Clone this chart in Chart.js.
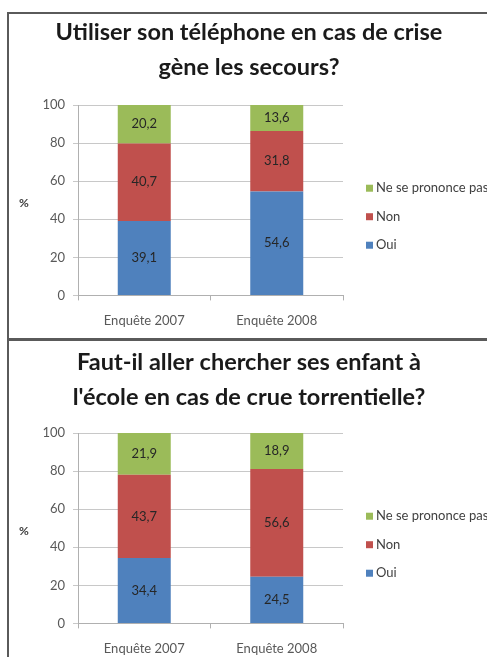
<!DOCTYPE html>
<html>
<head>
<meta charset="utf-8">
<script src="https://cdn.jsdelivr.net/npm/chart.js@4.4.0/dist/chart.umd.min.js"></script>
<style>
body { margin:0; background:#fff; width:487px; height:657px; overflow:hidden; position:relative; }
.panel { position:absolute; border:2px solid #5a5a5a; box-sizing:border-box; }
#panel1 { left:7px; top:12px; width:500px; height:328px; }
#panel2 { left:7px; top:339px; width:500px; height:340px; }
.box { position:absolute; left:8px; width:482px; height:340px; }
#box1 { top:13px; }
#box2 { top:341px; }
</style>
</head>
<body>
<div class="panel" id="panel1"></div>
<div class="panel" id="panel2"></div>
<div class="box" id="box1"><canvas id="chart1" width="482" height="340"></canvas></div>
<div class="box" id="box2"><canvas id="chart2" width="482" height="340"></canvas></div>
<script>
// ======
// data
// ======
var categories = ['Enquête 2007', 'Enquête 2008'];
var seriesNames = ['Oui', 'Non', 'Ne se prononce pas'];
var seriesColors = ['#4f81bd', '#c0504d', '#9bbb59'];

var title1 = ['Utiliser son téléphone en cas de crise', 'gène les secours?'];
var oui1 = [39.1, 54.6];
var non1 = [40.7, 31.8];
var nsp1 = [20.2, 13.6];

var title2 = ['Faut-il aller chercher ses enfant à', "l'école en cas de crue torrentielle?"];
var oui2 = [34.4, 24.5];
var non2 = [43.7, 56.6];
var nsp2 = [21.9, 18.9];

var yTicks = [0, 20, 40, 60, 80, 100];

var FONT = 'Lato, "Open Sans", sans-serif';

// labels inside the bars + the "%" on the left
var barLabels = {
    id: 'barLabels',
    afterDatasetsDraw: function(chart) {
        var ctx = chart.ctx;
        ctx.save();
        ctx.font = '13px ' + FONT;
        ctx.fillStyle = '#262626';
        ctx.textAlign = 'center';
        ctx.textBaseline = 'middle';
        chart.data.datasets.forEach(function(ds, i) {
            chart.getDatasetMeta(i).data.forEach(function(bar, j) {
                var txt = ds.data[j].toFixed(1).replace('.', ',');
                ctx.fillText(txt, bar.x, (bar.y + bar.base) / 2);
            });
        });
        var area = chart.chartArea;
        ctx.fillStyle = '#404040';
        ctx.font = 'bold 12px ' + FONT;
        ctx.fillText('%', area.left - 54, (area.top + area.bottom) / 2 + 3);
        ctx.restore();
    }
};

// legend to the right of the plot, top item = last series (like Excel)
// (the built-in one gets clipped to a quarter of the canvas width)
var sideLegend = {
    id: 'sideLegend',
    afterDraw: function(chart) {
        var ctx = chart.ctx;
        var area = chart.chartArea;
        var x = area.right + 23;
        var mid = (area.top + area.bottom) / 2 + 16.5;
        ctx.save();
        ctx.font = '13px ' + FONT;
        ctx.textAlign = 'left';
        ctx.textBaseline = 'middle';
        chart.data.datasets.slice().reverse().forEach(function(ds, i) {
            var y = mid + (i - 1) * 28.5;
            ctx.fillStyle = ds.backgroundColor;
            ctx.fillRect(x, y - 3.5, 7, 7);
            ctx.fillStyle = '#404040';
            ctx.fillText(ds.label, x + 10, y);
        });
        ctx.restore();
    }
};

function makeChart(id, title, oui, non, nsp, titleTop) {
    var values = [oui, non, nsp];
    var datasets = seriesNames.map(function(name, i) {
        return {
            label: name,
            data: values[i],
            backgroundColor: seriesColors[i],
            borderWidth: 0
        };
    });
    return new Chart(document.getElementById(id), {
        type: 'bar',
        data: { labels: categories, datasets: datasets },
        plugins: [barLabels, sideLegend],
        options: {
            responsive: false,
            animation: false,
            layout: { padding: { left: 0, right: 0, top: 0, bottom: 11 } },
            datasets: { bar: { categoryPercentage: 1, barPercentage: 0.4 } },
            plugins: {
                title: {
                    display: true,
                    text: title,
                    color: '#1a1a1a',
                    font: { family: FONT, size: 23.5, weight: 'bold', lineHeight: 1.49 },
                    padding: { top: titleTop, bottom: 22 - titleTop }
                },
                legend: { display: false },
                tooltip: { enabled: false }
            },
            scales: {
                x: {
                    stacked: true,
                    grid: { offset: true, drawOnChartArea: false, tickLength: 5, color: '#b0b0b0' },
                    border: { color: '#b0b0b0' },
                    ticks: { padding: 13, color: '#595959', font: { family: FONT, size: 13 } }
                },
                y: {
                    stacked: true,
                    min: 0,
                    max: 100,
                    afterFit: function(scale) { scale.width = 70; },
                    afterBuildTicks: function(scale) {
                        scale.ticks = yTicks.map(function(v) { return { value: v }; });
                    },
                    grid: { color: '#c8c8c8', tickLength: 5 },
                    border: { color: '#b0b0b0' },
                    ticks: { padding: 8, color: '#595959', font: { family: FONT, size: 13 } }
                },
                // empty axis on the right, keeps room for the legend
                side: {
                    type: 'linear',
                    position: 'right',
                    afterFit: function(scale) { scale.width = 147; },
                    grid: { display: false },
                    border: { display: false },
                    ticks: { display: false }
                }
            }
        }
    });
}

makeChart('chart1', title1, oui1, non1, nsp1, 2);
makeChart('chart2', title2, oui2, non2, nsp2, 4);
</script>
</body>
</html>
